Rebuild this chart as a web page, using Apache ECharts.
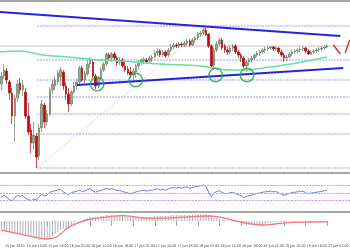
<!DOCTYPE html>
<html><head><meta charset="utf-8">
<script src="https://cdn.jsdelivr.net/npm/echarts@6/dist/echarts.min.js"></script>
<style>html,body{margin:0;padding:0;background:#fff}#c{width:350px;height:250px}</style>
</head><body><div id="c"></div><script>
const tickLabels = ['15 Jun 2020','15 Jun 10:00','15 Jun 18:00','16 Jun 02:00','16 Jun 10:00','16 Jun 18:00','17 Jun 02:00','17 Jun 10:00','17 Jun 18:00','18 Jun 02:00','18 Jun 10:00','18 Jun 18:00','19 Jun 02:00','19 Jun 10:00','19 Jun 18:00','22 Jun 02:00'];

const opens = [1.1338,1.1346,1.1351,1.1340,1.1329,1.1306,1.1324,1.1339,1.1332,1.1330,
1.1306,1.1292,1.1279,1.1286,1.1266,1.1294,1.1317,1.1300,1.1308,1.1332,
1.1336,1.1340,1.1345,1.1350,1.1336,1.1328,1.1318,1.1330,1.1336,1.1340,
1.1354,1.1342,1.1348,1.1358,1.1360,1.1346,1.1336,1.1344,1.1352,1.1358,
1.1367,1.1364,1.1368,1.1364,1.1360,1.1362,1.1356,1.1353,1.1350,1.1347,
1.1350,1.1356,1.1360,1.1361,1.1362,1.1361,1.1364,1.1365,1.1369,1.1371,
1.1367,1.1370,1.1367,1.1372,1.1375,1.1377,1.1376,1.1378,1.1377,1.1379,
1.1381,1.1377,1.1382,1.1384,1.1388,1.1389,1.1392,1.1388,1.1376,1.1357,
1.1372,1.1378,1.1382,1.1376,1.1372,1.1370,1.1374,1.1376,1.1370,1.1367,
1.1364,1.1356,1.1360,1.1362,1.1364,1.1367,1.1369,1.1370,1.1372,1.1373,
1.1374,1.1375,1.1373,1.1374,1.1370,1.1367,1.1364,1.1365,1.1368,1.1370,
1.1371,1.1372,1.1373,1.1374,1.1371,1.1368,1.1370,1.1371,1.1372,1.1373,
1.1374,1.1375];
const closes = [1.1346,1.1352,1.1342,1.1329,1.1306,1.1324,1.1338,1.1332,1.1337,1.1306,
1.1290,1.1279,1.1287,1.1265,1.1294,1.1318,1.1300,1.1308,1.1332,1.1338,
1.1342,1.1349,1.1352,1.1336,1.1328,1.1318,1.1330,1.1336,1.1340,1.1354,
1.1342,1.1349,1.1358,1.1362,1.1346,1.1336,1.1344,1.1352,1.1358,1.1368,
1.1364,1.1368,1.1364,1.1359,1.1362,1.1356,1.1352,1.1349,1.1347,1.1351,
1.1356,1.1360,1.1362,1.1363,1.1360,1.1364,1.1365,1.1369,1.1371,1.1367,
1.1370,1.1366,1.1372,1.1375,1.1377,1.1376,1.1378,1.1377,1.1379,1.1381,
1.1377,1.1382,1.1384,1.1388,1.1389,1.1392,1.1387,1.1376,1.1356,1.1372,
1.1378,1.1382,1.1374,1.1372,1.1370,1.1374,1.1376,1.1370,1.1367,1.1364,
1.1356,1.1360,1.1362,1.1364,1.1367,1.1369,1.1370,1.1372,1.1373,1.1374,
1.1375,1.1373,1.1374,1.1370,1.1367,1.1364,1.1365,1.1368,1.1370,1.1371,
1.1372,1.1373,1.1374,1.1371,1.1368,1.1370,1.1371,1.1372,1.1373,1.1374,
1.1375,1.1376];
const lows = [1.1332,1.1343,1.1338,1.1322,1.1298,1.1280,1.1320,1.1328,1.1326,1.1303,
1.1287,1.1269,1.1272,1.1254,1.1262,1.1290,1.1294,1.1296,1.1306,1.1328,
1.1332,1.1337,1.1336,1.1332,1.1322,1.1310,1.1316,1.1328,1.1332,1.1337,
1.1340,1.1339,1.1346,1.1354,1.1344,1.1333,1.1334,1.1342,1.1350,1.1356,
1.1361,1.1360,1.1362,1.1356,1.1357,1.1354,1.1350,1.1347,1.1344,1.1342,
1.1344,1.1352,1.1357,1.1358,1.1358,1.1359,1.1360,1.1364,1.1366,1.1365,
1.1365,1.1364,1.1365,1.1370,1.1373,1.1374,1.1374,1.1375,1.1375,1.1376,
1.1375,1.1376,1.1379,1.1382,1.1385,1.1387,1.1386,1.1374,1.1354,1.1352,
1.1370,1.1376,1.1372,1.1369,1.1367,1.1368,1.1371,1.1368,1.1364,1.1360,
1.1354,1.1350,1.1356,1.1359,1.1362,1.1365,1.1366,1.1368,1.1369,1.1371,
1.1372,1.1371,1.1371,1.1368,1.1365,1.1360,1.1361,1.1364,1.1366,1.1368,
1.1369,1.1370,1.1371,1.1369,1.1367,1.1367,1.1368,1.1369,1.1370,1.1371,
1.1372,1.1374];
const highs = [1.1350,1.1358,1.1354,1.1342,1.1334,1.1327,1.1342,1.1344,1.1342,1.1334,
1.1319,1.1298,1.1300,1.1289,1.1298,1.1322,1.1319,1.1312,1.1335,1.1342,
1.1346,1.1352,1.1355,1.1352,1.1340,1.1334,1.1332,1.1340,1.1343,1.1356,
1.1356,1.1351,1.1362,1.1365,1.1362,1.1348,1.1346,1.1355,1.1360,1.1370,
1.1369,1.1370,1.1370,1.1366,1.1365,1.1364,1.1360,1.1356,1.1355,1.1354,
1.1358,1.1362,1.1364,1.1365,1.1364,1.1366,1.1367,1.1372,1.1374,1.1373,
1.1372,1.1372,1.1374,1.1378,1.1379,1.1379,1.1380,1.1380,1.1381,1.1383,
1.1383,1.1384,1.1386,1.1390,1.1391,1.1394,1.1395,1.1389,1.1378,1.1374,
1.1381,1.1384,1.1384,1.1378,1.1375,1.1377,1.1378,1.1378,1.1372,1.1369,
1.1366,1.1362,1.1364,1.1366,1.1369,1.1371,1.1372,1.1374,1.1375,1.1376,
1.1376,1.1376,1.1376,1.1375,1.1372,1.1369,1.1367,1.1370,1.1372,1.1373,
1.1374,1.1375,1.1376,1.1375,1.1373,1.1372,1.1373,1.1374,1.1375,1.1376,
1.1377,1.1378];

const maIdx = [-0.5, 6.9, 15.5, 24.4, 36.7, 44.1, 59, 73.8, 85, 90.6, 97.3, 109.9, 121];
const maVal = [1.1370, 1.1371, 1.1367, 1.1365, 1.1362, 1.1361, 1.1358, 1.1356, 1.1352, 1.1352, 1.1354, 1.1359, 1.1365];

const upperTrend = [[-0.5, 1.1410], [125.9, 1.1386]];
const lowerTrend = [[28.1, 1.1337], [127.0, 1.1354]];
const retraceLine = [[13.25, 1.1254], [75.7, 1.1394]];
const fibStart = 13.25;
const fibLevels = [1.1396, 1.1362, 1.1342, 1.1325, 1.1308, 1.1288, 1.1254];
const priceLine = 1.1376;
const circlePts = [[35.6, 1.1338], [49.9, 1.1342], [79.6, 1.1347], [91.3, 1.1347]];
const redV1 = [[123.3, 1.1377], [125.9, 1.1368]];
const redV2 = [[127.7, 1.1369], [129.4, 1.1382]];

const rsiValues = [40,44,38,33,29,38,44,41,43,36,
33,30,34,31,40,46,42,45,52,54,
56,58,59,53,49,46,51,53,54,58,
54,56,59,61,56,52,55,57,59,62,
60,61,59,56,57,54,52,50,48,50,
53,55,56,57,55,57,57,60,61,58,
60,57,61,63,64,63,64,63,65,66,
62,65,66,68,69,71,68,52,40,50,
54,56,51,49,48,51,52,48,46,43,
38,41,43,45,47,49,50,52,53,54,
55,53,54,50,47,44,46,49,51,52,
53,54,55,51,48,50,51,52,53,54,
56,58];
const rsiLevels = [30, 50, 70];

const macdHist = [-0.0004,-0.00045,-0.0005,-0.00055,-0.0006,-0.00065,-0.00065,-0.00065,-0.00065,-0.0007,
-0.00075,-0.0008,-0.00085,-0.0009,-0.00095,-0.00095,-0.00095,-0.0009,-0.00085,-0.00075,
-0.00065,-0.00055,-0.00045,-0.0004,-0.00035,-0.0003,-0.0002,-0.00015,-0.00005,0.00002,
0.00005,0.0001,0.00015,0.0002,0.0002,0.0002,0.0002,0.00025,0.00025,0.0003,
0.0003,0.0003,0.0003,0.0003,0.0003,0.00025,0.00025,0.0002,0.0002,0.0002,
0.0002,0.0002,0.0002,0.0002,0.0002,0.0002,0.0002,0.00025,0.00025,0.00025,
0.00025,0.00025,0.00025,0.0003,0.0003,0.0003,0.0003,0.0003,0.0003,0.0003,
0.0003,0.0003,0.00035,0.00035,0.00035,0.00035,0.00035,0.0003,0.0002,0.00015,
0.00015,0.0001,0.0001,0.00005,0.00005,0.00002,-0.00002,-0.00005,-0.00005,-0.0001,
-0.00015,-0.0002,-0.0002,-0.0002,-0.0002,-0.0002,-0.0002,-0.00015,-0.00015,-0.0001,
-0.0001,-0.00005,-0.00005,-0.00005,-0.00005,-0.00005,-0.00005,-0.00005,-0.00005,-0.00005,
-0.00005,-0.00002,-0.00002,-0.00002,-0.00005,-0.00005,-0.00003,-0.00003,-0.00002,-0.00002,
-0.00002,-0.00002];
const sigIdx = [0, 5.8, 11.8, 17, 20.7, 24.4, 28.1, 31.8, 36.7, 41.5, 45.2, 48.9, 54.1, 59, 64.5, 70.9, 76.8, 82, 85.7, 91.7, 96.9, 101.7, 105.4, 114, 121];
const sigVal = [-0.00045,-0.00062,-0.00079,-0.0009,-0.00079,-0.00037,-0.00012,0.00005,0.00017,0.00024,0.00027,0.00022,0.00014,0.00014,0.00017,0.00022,0.00025,0.00017,0.00005,-0.00012,-0.0002,-0.00015,-0.00009,-0.00005,-0.00004];

// hourly slots (weekend skipped), including empty space to the right of the last bar
const SLOTS = 130;
const X_MAX = SLOTS - 0.5;
const MON = ['Jan','Feb','Mar','Apr','May','Jun','Jul','Aug','Sep','Oct','Nov','Dec'];
const categories = [];
for (let t = Date.UTC(2020, 5, 15, 1); categories.length < SLOTS; t += 3600000) {
  const d = new Date(t), wd = d.getUTCDay();
  if (wd === 0 || wd === 6) continue;
  const hh = String(d.getUTCHours()).padStart(2, '0');
  categories.push(d.getUTCDate() + ' ' + MON[d.getUTCMonth()] + ' ' + hh + ':00');
}
const TICK_EVERY = 8;
const lastTick = 1 + TICK_EVERY * (tickLabels.length - 1);
const isTick = i => i >= 1 && i <= lastTick && (i - 1) % TICK_EVERY === 0;

const SEP = '#a6a6a6';
const hidden = {show: false};
const catAxis = (grid, extra) => Object.assign({
  type: 'category', gridIndex: grid, data: categories, boundaryGap: true,
  axisLine: {show: true, lineStyle: {color: SEP, width: 2}},
  axisTick: hidden, axisLabel: hidden, splitLine: hidden
}, extra || {});
const valX = (grid, extra) => Object.assign({
  type: 'value', gridIndex: grid, min: -0.5, max: X_MAX, show: true,
  axisLine: hidden, axisTick: hidden, axisLabel: hidden, splitLine: hidden
}, extra || {});

const series = [];
// fibonacci retracement levels
fibLevels.forEach(l => series.push({
  type: 'line', xAxisIndex: 1, yAxisIndex: 0, data: [[fibStart, l], [X_MAX, l]],
  showSymbol: false, silent: true, z: 1,
  lineStyle: {color: '#9c9cf2', width: 1, type: [2, 1]}
}));
series.push({
  type: 'line', xAxisIndex: 1, yAxisIndex: 0, data: [[-0.5, priceLine], [X_MAX, priceLine]],
  showSymbol: false, silent: true, z: 1, lineStyle: {color: '#c4c4c4', width: 1}
});
series.push({
  type: 'line', xAxisIndex: 1, yAxisIndex: 0, data: retraceLine,
  showSymbol: false, silent: true, z: 1, lineStyle: {color: '#ff9a9a', width: 1, type: [1, 1.5]}
});
series.push({
  type: 'candlestick', xAxisIndex: 0, yAxisIndex: 0, z: 2, barWidth: 2,
  data: opens.map((o, i) => [o, closes[i], lows[i], highs[i]]),
  itemStyle: {color: '#98a891', color0: '#d40000', borderColor: '#6e7d68', borderColor0: '#a81010', borderWidth: 0.7}
});
series.push({
  type: 'line', xAxisIndex: 1, yAxisIndex: 0, data: maIdx.map((x, i) => [x, maVal[i]]),
  smooth: 0.4, showSymbol: false, silent: true, z: 3, lineStyle: {color: '#62e2a4', width: 1.5}
});
[upperTrend, lowerTrend].forEach(tl => series.push({
  type: 'line', xAxisIndex: 1, yAxisIndex: 0, data: tl,
  showSymbol: false, silent: true, z: 4, lineStyle: {color: '#2323e6', width: 2}
}));
[redV1, redV2].forEach(seg => series.push({
  type: 'line', xAxisIndex: 1, yAxisIndex: 0, data: seg,
  showSymbol: false, silent: true, z: 4, lineStyle: {color: '#e82020', width: 1.3}
}));
series.push({
  type: 'scatter', xAxisIndex: 1, yAxisIndex: 0, data: circlePts, symbol: 'circle', symbolSize: 13.5,
  silent: true, z: 5, itemStyle: {color: 'rgba(0,0,0,0)', borderColor: '#22a845', borderWidth: 1.6}
});
// RSI
series.push({
  type: 'line', xAxisIndex: 2, yAxisIndex: 1, data: rsiValues, showSymbol: false, silent: true,
  lineStyle: {color: '#7676ee', width: 1},
  markLine: {silent: true, symbol: 'none', label: hidden, animation: false,
    lineStyle: {color: '#c6a2ee', width: 1, type: [2, 1]},
    data: rsiLevels.map(v => ({yAxis: v}))}
});
// MACD
series.push({
  type: 'bar', xAxisIndex: 3, yAxisIndex: 2, data: macdHist, barWidth: 1, silent: true,
  itemStyle: {color: '#b2b2b2'}
});
series.push({
  type: 'line', xAxisIndex: 4, yAxisIndex: 2, data: sigIdx.map((x, i) => [x, sigVal[i]]),
  smooth: 0.4, showSymbol: false, silent: true, lineStyle: {color: '#f27a7a', width: 1.3}
});

const chart = echarts.init(document.getElementById('c'), null, {renderer: 'canvas'});
chart.setOption({
  animation: false,
  backgroundColor: '#ffffff',
  grid: [
    {left: 0, right: 0, top: 1, height: 172, outerBoundsMode: 'none'},
    {left: 0, right: 0, top: 174, height: 38, outerBoundsMode: 'none'},
    {left: 0, right: 0, top: 213, height: 28, outerBoundsMode: 'none'}
  ],
  xAxis: [
    catAxis(0),
    valX(0, {position: 'top', axisLine: {show: true, lineStyle: {color: SEP, width: 2}}}),
    catAxis(1),
    catAxis(2, {
      axisLine: hidden,
      axisTick: {show: true, interval: i => isTick(i), alignWithLabel: true, length: 5, lineStyle: {color: '#8a8a8a', width: 0.8}},
      axisLabel: {show: true, interval: i => isTick(i), formatter: (v, i) => isTick(i) ? tickLabels[(i - 1) / TICK_EVERY] : '',
        fontSize: 3.6, color: '#3c3c3c', align: 'left', margin: 3, padding: [0, 0, 0, 1],
        fontFamily: '"Liberation Sans Narrow", "DejaVu Sans Condensed", sans-serif'}
    }),
    valX(2)
  ],
  yAxis: [
    {type: 'value', gridIndex: 0, min: 1.1249, max: 1.1421, show: false, splitLine: hidden},
    {type: 'value', gridIndex: 1, min: 0, max: 100, show: false, splitLine: hidden},
    {type: 'value', gridIndex: 2, min: -0.0010, max: 0.0004, show: false, splitLine: hidden}
  ],
  series: series
});
</script></body></html>
